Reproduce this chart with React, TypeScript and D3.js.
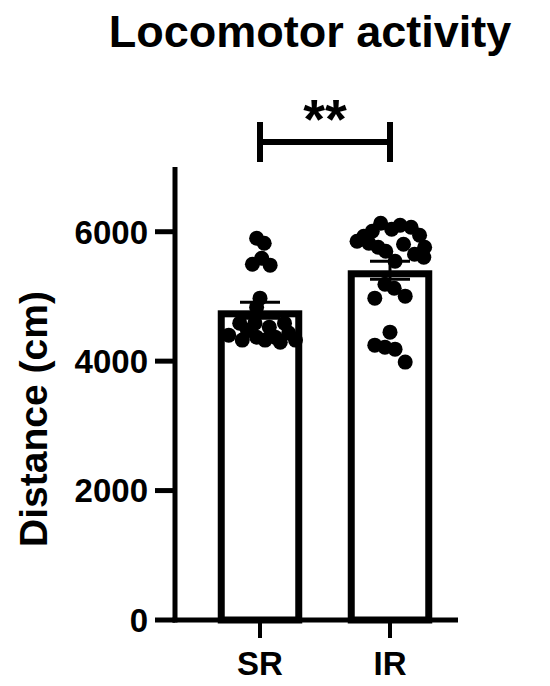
import React from "react";
import * as d3 from "d3";

const groups = ["SR", "IR"];
const srValues = [5900, 5822, 5590, 5498, 5483, 4973, 4834, 4587, 4402, 4479, 4587, 4371, 4525, 4371, 4587, 4433, 4325, 4293, 4325, 4325];
const srJitter = [-0.04, 0.05, 0.02, -0.09, 0.12, 0, -0.04, -0.24, -0.37, -0.15, -0.06, -0.04, 0.11, 0.18, 0.29, 0.34, 0.42, 0.24, 0.06, -0.21];
const irValues = [6131, 6038, 6100, 6069, 6008, 5931, 5853, 5822, 5761, 5699, 5807, 5946, 5761, 5652, 5606, 5544, 5189, 5127, 4973, 5004, 4448, 4247, 4216, 4185, 3985];
const irJitter = [-0.11, 0.02, 0.12, 0.25, -0.21, -0.31, -0.39, -0.25, -0.14, -0.05, 0.16, 0.35, 0.41, 0.29, 0.4, 0.06, -0.06, 0.05, -0.18, 0.18, 0, -0.18, -0.06, 0.06, 0.18];
const yTicks = [0, 2000, 4000, 6000];
const yMax = 7000;
const title = "Locomotor activity";
const yLabel = "Distance (cm)";
const sigLabel = "**";

const FONT = "'Liberation Sans', Arial, Helvetica, sans-serif";

export default function App() {
  const W = 550;
  const H = 686;
  const x = d3.scaleBand<string>().domain(groups).range([195, 455]).paddingInner(0.35).paddingOuter(0.175);
  const y = d3.scaleLinear().domain([0, yMax]).range([620, 167]);
  const bw = x.bandwidth();

  const series = [
    { name: "SR", values: srValues, jitter: srJitter },
    { name: "IR", values: irValues, jitter: irJitter },
  ].map((s) => {
    const mean = d3.mean(s.values) as number;
    const sd = d3.deviation(s.values) as number;
    const sem = sd / Math.sqrt(s.values.length);
    return { ...s, mean, sem };
  });

  const barSW = 7;
  const axisSW = 5;
  const x0 = 175;
  const xEnd = 458;
  const cx = (g: string) => (x(g) as number) + bw / 2;

  return (
    <svg width={W} height={H} style={{ position: "absolute", left: 0, top: 0, background: "#fff" }}>
      <rect x={0} y={0} width={W} height={H} fill="#fff" />
      {/* title */}
      <text x={310} y={47} textAnchor="middle" fontFamily={FONT} fontWeight="bold" fontSize={45} fill="#000">
        {title}
      </text>
      {/* y label */}
      <text
        transform={`translate(47, ${419}) rotate(-90)`}
        textAnchor="middle"
        fontFamily={FONT}
        fontWeight="bold"
        fontSize={39}
        fill="#000"
      >
        {yLabel}
      </text>

      {/* bars */}
      {series.map((s) => {
        const left = (x(s.name) as number) + barSW / 2;
        const top = y(s.mean) + barSW / 2;
        return (
          <rect
            key={s.name}
            x={left}
            y={top}
            width={bw - barSW}
            height={y(0) - top}
            fill="#fff"
            stroke="#000"
            strokeWidth={barSW}
          />
        );
      })}

      {/* error bars */}
      {series.map((s) => {
        const c = cx(s.name);
        const hi = y(s.mean + s.sem);
        const lo = y(s.mean - s.sem);
        return (
          <g key={"e" + s.name} stroke="#000" strokeWidth={3}>
            <line x1={c} x2={c} y1={hi} y2={lo} />
            <line x1={c - 20} x2={c + 20} y1={hi} y2={hi} />
            <line x1={c - 20} x2={c + 20} y1={lo} y2={lo} />
          </g>
        );
      })}

      {/* dots */}
      {series.map((s) =>
        s.values.map((v, i) => (
          <circle key={s.name + i} cx={cx(s.name) + s.jitter[i] * bw} cy={y(v)} r={7.5} fill="#000" />
        ))
      )}

      {/* y axis */}
      <line x1={x0} x2={x0} y1={y(yMax)} y2={y(0) + axisSW / 2} stroke="#000" strokeWidth={axisSW} />
      {yTicks.map((t) => (
        <g key={t}>
          <line x1={155} x2={x0} y1={y(t)} y2={y(t)} stroke="#000" strokeWidth={axisSW} />
          <text
            x={148}
            y={y(t)}
            dy="0.36em"
            textAnchor="end"
            fontFamily={FONT}
            fontWeight="bold"
            fontSize={33}
            fill="#000"
          >
            {d3.format("d")(t)}
          </text>
        </g>
      ))}

      {/* x axis */}
      <line x1={x0 - axisSW / 2} x2={xEnd} y1={y(0)} y2={y(0)} stroke="#000" strokeWidth={axisSW} />
      {groups.map((g) => (
        <g key={g}>
          <line x1={cx(g)} x2={cx(g)} y1={y(0)} y2={638} stroke="#000" strokeWidth={4} />
          <text x={cx(g)} y={675} textAnchor="middle" fontFamily={FONT} fontWeight="bold" fontSize={33} fill="#000">
            {g}
          </text>
        </g>
      ))}

      {/* significance bracket */}
      <g stroke="#000" strokeWidth={6}>
        <line x1={cx("SR")} x2={cx("IR")} y1={142} y2={142} />
        <line x1={cx("SR")} x2={cx("SR")} y1={122} y2={162} />
        <line x1={cx("IR")} x2={cx("IR")} y1={122} y2={162} />
      </g>
      <text
        x={(cx("SR") + cx("IR")) / 2}
        y={138}
        textAnchor="middle"
        fontFamily={FONT}
        fontWeight="bold"
        fontSize={56}
        fill="#000"
      >
        {sigLabel}
      </text>
    </svg>
  );
}
